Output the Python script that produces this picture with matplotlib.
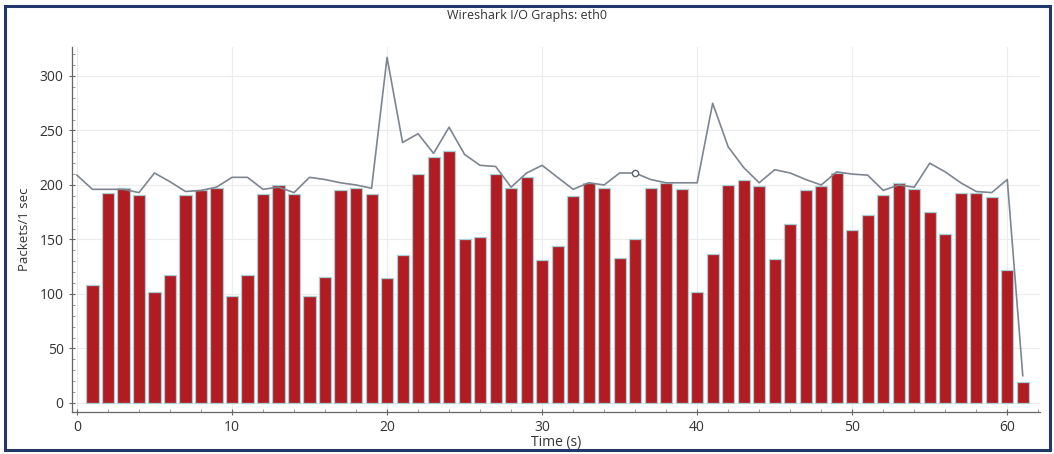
import numpy as np
import matplotlib.pyplot as plt
import matplotlib.patches as mpatches
from matplotlib.ticker import MultipleLocator

# --- Datos ---
bar_t = list(range(1, 62))
bar_pkts = [108, 193, 197, 191, 102, 117, 191, 195, 197, 98,
            117, 192, 200, 192, 98, 116, 195, 197, 192, 115,
            136, 210, 226, 231, 150, 152, 210, 197, 207, 131,
            144, 190, 202, 197, 133, 150, 197, 202, 196, 102,
            137, 200, 205, 199, 132, 164, 195, 199, 211, 159,
            172, 191, 202, 196, 175, 155, 193, 193, 189, 122,
            19]

line_t = list(range(0, 62))
line_pkts = [209, 196, 196, 196, 193, 211, 203, 194, 195, 198,
             207, 207, 196, 198, 193, 207, 205, 202, 200, 197,
             317, 239, 247, 229, 253, 228, 218, 217, 198, 211,
             218, 207, 196, 202, 200, 211, 211, 205, 202, 202,
             202, 275, 235, 216, 202, 214, 211, 205, 200, 212,
             210, 209, 195, 200, 198, 220, 212, 202, 194, 193,
             205, 25]
marker_t = [36]
marker_pkts = [211]

plt.rcParams['font.family'] = ['Open Sans', 'DejaVu Sans']

fig = plt.figure(figsize=(10.54, 4.54), dpi=100)
ax = fig.add_axes([0.0683, 0.0925, 0.9187, 0.804])

ax.bar(bar_t, bar_pkts, width=0.78, color='#b01c22',
       edgecolor='#a9cfd6', linewidth=0.9, zorder=2)
ax.plot(line_t, line_pkts, color='#7d8590', linewidth=1.2, zorder=3)
ax.plot(marker_t, marker_pkts, 'o', mfc='white', mec='#5a6270',
        ms=4.5, mew=1, zorder=4)

ax.set_xlim(-0.32, 62.13)
ax.set_ylim(-8.3, 326.6)
ax.xaxis.set_major_locator(MultipleLocator(10))
ax.xaxis.set_minor_locator(MultipleLocator(2))
ax.yaxis.set_major_locator(MultipleLocator(50))
ax.yaxis.set_minor_locator(MultipleLocator(10))

for s in ['top', 'right']:
    ax.spines[s].set_visible(False)
for s in ['left', 'bottom']:
    ax.spines[s].set_color('#666666')
    ax.spines[s].set_linewidth(0.9)

ax.tick_params(which='major', direction='inout', length=5, width=0.8,
               colors='#666666', labelcolor='#333333', labelsize=10)
ax.tick_params(which='minor', direction='in', length=2.5, width=0.6,
               colors='#888888')
ax.grid(True, which='major', color='#ececec', linewidth=0.8, zorder=0)
ax.set_axisbelow(True)

ax.set_xlabel('Time (s)', fontsize=10, color='#333333', labelpad=0)
ax.set_ylabel('Packets/1 sec', fontsize=9.5, color='#333333', labelpad=6)
fig.text(0.5, 0.965, 'Wireshark I/O Graphs: eth0', ha='center', va='center',
         fontsize=9, color='#333333')

# marco exterior
frame = mpatches.Rectangle((0.005, 0.008), 0.991, 0.978, transform=fig.transFigure,
                           fill=False, edgecolor='#22386a', linewidth=2.2)
fig.patches.append(frame)

fig.savefig('out.png', dpi=100)
